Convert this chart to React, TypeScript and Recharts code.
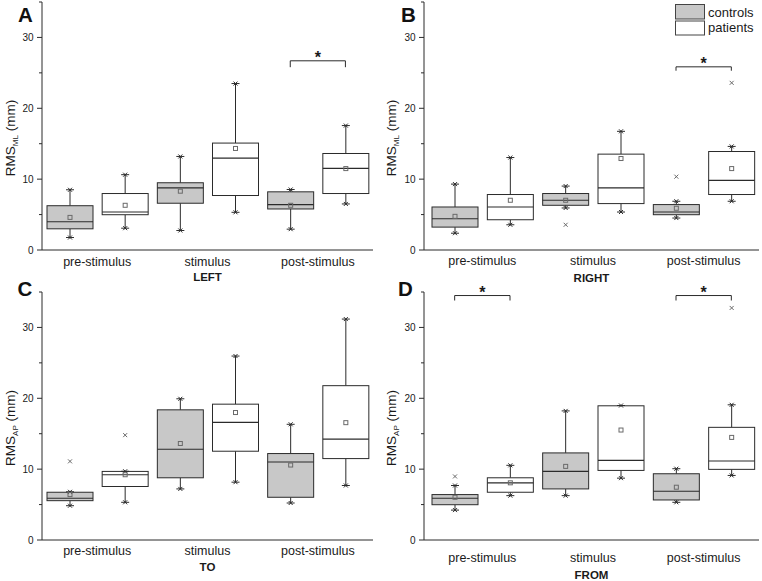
import React from 'react';
import { ComposedChart, Bar, XAxis, YAxis, ReferenceLine, ReferenceDot } from 'recharts';

const FONT = '"Liberation Sans", Arial, Helvetica, sans-serif';
const INK = '#2b2b2b';

// categories
const slots = ['pre-c', 'pre-p', 'stim-c', 'stim-p', 'post-c', 'post-p'];
const slotGroups = ['pre-stimulus', 'pre-stimulus', 'stimulus', 'stimulus', 'post-stimulus', 'post-stimulus'];
const slotCohort = ['controls', 'patients', 'controls', 'patients', 'controls', 'patients'];
const yTicks = [0, 5, 10, 15, 20, 25, 30, 35];

// Panel A - LEFT (RMS ML)
const leftMin = [1.76, 3.08, 2.75, 5.32, 2.94, 6.5];
const leftQ1 = [2.99, 4.98, 6.6, 7.69, 5.79, 7.97];
const leftMedian = [3.99, 5.36, 8.78, 12.96, 6.41, 11.53];
const leftQ3 = [6.25, 7.97, 9.49, 15.09, 8.21, 13.62];
const leftMax = [8.5, 10.63, 13.2, 23.49, 8.54, 17.56];
const leftMean = [4.6, 6.31, 8.3, 14.33, 6.31, 11.49];
const leftOutliers: number[][] = [[], [], [], [], [], []];

// Panel B - RIGHT (RMS ML)
const rightMin = [2.37, 3.56, 5.93, 5.36, 4.51, 6.88];
const rightQ1 = [3.23, 4.27, 6.31, 6.55, 4.98, 7.83];
const rightMedian = [4.41, 6.07, 7.02, 8.78, 5.36, 9.82];
const rightQ3 = [6.07, 7.83, 7.97, 13.53, 6.41, 13.9];
const rightMax = [9.3, 13.05, 9.02, 16.75, 6.88, 14.62];
const rightMean = [4.75, 7.02, 7.02, 12.91, 5.89, 11.49];
const rightOutliers: number[][] = [[], [], [3.56], [], [10.35], [23.59]];

// Panel C - TO (RMS AP)
const toMin = [4.84, 5.32, 7.21, 8.16, 5.22, 7.69];
const toQ1 = [5.55, 7.55, 8.78, 12.53, 6.03, 11.49];
const toMedian = [5.89, 9.21, 12.81, 16.61, 11.01, 14.24];
const toQ3 = [6.74, 9.68, 18.37, 19.17, 12.2, 21.78];
const toMax = [6.8, 9.7, 19.93, 25.96, 16.33, 31.18];
const toMean = [6.41, 9.21, 13.62, 17.99, 10.58, 16.56];
const toOutliers: number[][] = [[11.1], [14.8], [], [], [], []];

// Panel D - FROM (RMS AP)
const fromMin = [4.22, 6.26, 6.26, 8.73, 5.32, 9.11];
const fromQ1 = [4.98, 6.74, 7.21, 9.82, 5.65, 9.97];
const fromMedian = [5.89, 8.07, 9.68, 11.25, 6.88, 11.15];
const fromQ3 = [6.41, 8.78, 12.29, 18.94, 9.35, 15.9];
const fromMax = [7.69, 10.54, 18.22, 18.98, 10.06, 19.08];
const fromMean = [6.03, 8.07, 10.39, 15.52, 7.45, 14.48];
const fromOutliers: number[][] = [[8.97], [], [], [], [], [32.75]];

// significance brackets
type Sig = { from: string; to: string; group: string; y: number; drop: number };
const leftSig: Sig[] = [{ from: 'post-c', to: 'post-p', group: 'post-stimulus', y: 26.7, drop: 25.8 }];
const rightSig: Sig[] = [{ from: 'post-c', to: 'post-p', group: 'post-stimulus', y: 25.85, drop: 25.3 }];
const toSig: Sig[] = [];
const fromSig: Sig[] = [
  { from: 'pre-c', to: 'pre-p', group: 'pre-stimulus', y: 34.5, drop: 33.8 },
  { from: 'post-c', to: 'post-p', group: 'post-stimulus', y: 34.5, drop: 33.8 },
];

type PanelSpec = {
  left: number; top: number; marginTop: number; yAxisWidth: number; marginRight: number; padLeft: number;
  sub: string; title: string;
  mins: number[]; q1s: number[]; medians: number[]; q3s: number[]; maxs: number[]; means: number[]; outliers: number[][];
  sig: Sig[]; tickDy: number; titleDy: number;
};

const panels: PanelSpec[] = [
  { left: 0, top: 0, marginTop: 2, yAxisWidth: 42, marginRight: 8, padLeft: 0, sub: 'ML', title: 'LEFT',
    mins: leftMin, q1s: leftQ1, medians: leftMedian, q3s: leftQ3, maxs: leftMax, means: leftMean, outliers: leftOutliers,
    sig: leftSig, tickDy: 11, titleDy: 31.3 },
  { left: 381, top: 0, marginTop: 2, yAxisWidth: 43, marginRight: 3, padLeft: 3, sub: 'ML', title: 'RIGHT',
    mins: rightMin, q1s: rightQ1, medians: rightMedian, q3s: rightQ3, maxs: rightMax, means: rightMean, outliers: rightOutliers,
    sig: rightSig, tickDy: 9.5, titleDy: 32 },
  { left: 0, top: 277.5, marginTop: 14, yAxisWidth: 42, marginRight: 8, padLeft: 0, sub: 'AP', title: 'TO',
    mins: toMin, q1s: toQ1, medians: toMedian, q3s: toQ3, maxs: toMax, means: toMean, outliers: toOutliers,
    sig: toSig, tickDy: 10, titleDy: 31 },
  { left: 381, top: 277.5, marginTop: 14, yAxisWidth: 43, marginRight: 3, padLeft: 3, sub: 'AP', title: 'FROM',
    mins: fromMin, q1s: fromQ1, medians: fromMedian, q3s: fromQ3, maxs: fromMax, means: fromMean, outliers: fromOutliers,
    sig: fromSig, tickDy: 17, titleDy: 38.7 },
];

function buildRows(p: PanelSpec) {
  return slots.map((slot, i) => {
    const outs = p.outliers[i];
    const lo = Math.min(p.mins[i], ...outs);
    const hi = Math.max(p.maxs[i], ...outs);
    return {
      slot, group: slotGroups[i], cohort: slotCohort[i],
      wlo: p.mins[i], q1: p.q1s[i], med: p.medians[i], q3: p.q3s[i], whi: p.maxs[i],
      mean: p.means[i], outliers: outs, lo, hi, range: [lo, hi],
    };
  });
}

const Cross = ({ cx, cy, s, color }: { cx: number; cy: number; s: number; color: string }) => (
  <g stroke={color} strokeWidth={1}>
    <line x1={cx - s} y1={cy - s} x2={cx + s} y2={cy + s} />
    <line x1={cx - s} y1={cy + s} x2={cx + s} y2={cy - s} />
  </g>
);

function BoxShape(props: any) {
  const { x, y, width, height, payload } = props;
  if (!payload || !isFinite(x) || !isFinite(y) || !isFinite(height)) return null;
  const { lo, hi, q1, q3, med, wlo, whi, mean, outliers, cohort } = payload;
  const k = height / (hi - lo);
  const py = (v: number) => y + (hi - v) * k;
  const cx = x + width / 2;
  const fill = cohort === 'controls' ? '#c8c8c8' : '#ffffff';
  return (
    <g>
      <line x1={cx} x2={cx} y1={py(whi)} y2={py(q3)} stroke={INK} />
      <line x1={cx} x2={cx} y1={py(q1)} y2={py(wlo)} stroke={INK} />
      <rect x={x} y={py(q3)} width={width} height={py(q1) - py(q3)} fill={fill} stroke={INK} strokeWidth={1} />
      <line x1={x} x2={x + width} y1={py(med)} y2={py(med)} stroke={INK} strokeWidth={1.2} />
      {[whi, wlo].map((v, i) => (
        <g key={i}>
          <line x1={cx - 4} x2={cx + 4} y1={py(v)} y2={py(v)} stroke={INK} />
          <Cross cx={cx} cy={py(v)} s={2} color={INK} />
        </g>
      ))}
      <rect x={cx - 2} y={py(mean) - 2} width={4} height={4} fill="none" stroke="#6a6a6a" strokeWidth={1} />
      {outliers.map((v: number, i: number) => (
        <Cross key={'o' + i} cx={cx} cy={py(v)} s={2} color="#6a6a6a" />
      ))}
    </g>
  );
}

const YTick = (props: any) => {
  const { x, y, payload } = props;
  const v = payload.value;
  const major = v % 10 === 0;
  return (
    <g>
      <line x1={x} x2={x - (major ? 5 : 3)} y1={y} y2={y} stroke={INK} />
      {major && (
        <text x={x - 8.5} y={y} dy={3.5} textAnchor="end" fontSize={10} fill="#1a1a1a" fontFamily={FONT}>
          {v}
        </text>
      )}
    </g>
  );
};

const makeXTick = (dy: number) => (props: any) => (
  <text x={props.x} y={props.y + dy} textAnchor="middle" fontSize={12.5} fill="#1a1a1a" fontFamily={FONT}>
    {props.payload.value}
  </text>
);

const makeYLabel = (sub: string) => (props: any) => {
  const vb = props.viewBox || { x: 0, y: 0, width: 0, height: 0 };
  const tx = vb.x + 14.5;
  const ty = vb.y + vb.height / 2 + 12;
  return (
    <text transform={`rotate(-90 ${tx} ${ty})`} x={tx} y={ty} textAnchor="middle" fontSize={13.5} fill="#1a1a1a" fontFamily={FONT}>
      RMS<tspan fontSize={8} dy={3}>{sub}</tspan>
      <tspan fontSize={13.5} dy={-3}>{' (mm)'}</tspan>
    </text>
  );
};

const makeXTitle = (title: string, dy: number) => (props: any) => {
  const vb = props.viewBox || { x: 0, y: 0, width: 0, height: 0 };
  return (
    <text x={vb.x + vb.width / 2} y={vb.y - 5 + dy} textAnchor="middle" fontSize={11.5} fontWeight="bold" fill="#1a1a1a" fontFamily={FONT}>
      {title}
    </text>
  );
};

function Panel({ p }: { p: PanelSpec }) {
  const rows = buildRows(p);
  const h = 248 + p.marginTop + 42;
  return (
    <div style={{ position: 'absolute', left: p.left, top: p.top, width: 381, height: h }}>
      <ComposedChart width={381} height={h} data={rows} margin={{ top: p.marginTop, right: p.marginRight, left: 0, bottom: 0 }}>
        <XAxis
          dataKey="slot" type="category" height={5} tick={false} tickSize={4}
          axisLine={{ stroke: INK }} tickLine={{ stroke: INK }} interval={0}
          padding={{ left: p.padLeft, right: 0 }}
        />
        <XAxis
          xAxisId="grp" dataKey="group" type="category" allowDuplicatedCategory={false}
          height={37} axisLine={false} tickLine={false} tickSize={0} tickMargin={0} interval={0}
          padding={{ left: p.padLeft, right: 0 }}
          tick={makeXTick(p.tickDy)} label={makeXTitle(p.title, p.titleDy)}
        />
        <YAxis
          type="number" domain={[0, 35]} ticks={yTicks} interval={0} width={p.yAxisWidth}
          allowDataOverflow tickLine={false} tickSize={0} tickMargin={0}
          axisLine={{ stroke: INK }} tick={YTick} label={makeYLabel(p.sub)}
        />
        <Bar dataKey="range" barSize={46} shape={BoxShape} isAnimationActive={false} />
        {p.sig.map((s, i) => (
          <ReferenceLine key={'h' + i} segment={[{ x: s.from, y: s.y }, { x: s.to, y: s.y }]} stroke={INK} strokeWidth={1} />
        ))}
        {p.sig.map((s, i) => (
          <ReferenceLine key={'l' + i} segment={[{ x: s.from, y: s.y }, { x: s.from, y: s.drop }]} stroke={INK} strokeWidth={1} />
        ))}
        {p.sig.map((s, i) => (
          <ReferenceLine key={'r' + i} segment={[{ x: s.to, y: s.y }, { x: s.to, y: s.drop }]} stroke={INK} strokeWidth={1} />
        ))}
        {p.sig.map((s, i) => (
          <ReferenceDot
            key={'a' + i} xAxisId="grp" x={s.group} y={s.y} r={0}
            shape={(sp: any) => (
              <text x={sp.cx} y={sp.cy + 2.5} textAnchor="middle" fontSize={16} fontWeight="bold" fill="#1a1a1a" fontFamily={FONT}>
                *
              </text>
            )}
          />
        ))}
      </ComposedChart>
    </div>
  );
}

const letters = [
  { t: 'A', x: 18, y: 22 },
  { t: 'B', x: 401, y: 22 },
  { t: 'C', x: 17.5, y: 296 },
  { t: 'D', x: 398, y: 296 },
];

export default function App() {
  return (
    <div style={{ position: 'absolute', left: 0, top: 0, width: 762, height: 581, background: '#fff', overflow: 'hidden' }}>
      {panels.map((p, i) => (
        <Panel key={i} p={p} />
      ))}
      <svg width={762} height={581} style={{ position: 'absolute', left: 0, top: 0, pointerEvents: 'none' }}>
        {letters.map((l) => (
          <text key={l.t} x={l.x} y={l.y} fontSize={20.5} fontWeight="bold" fill="#111" fontFamily={FONT}>
            {l.t}
          </text>
        ))}
        <rect x={675.5} y={4.5} width={29} height={14.5} fill="#c8c8c8" stroke="#444" />
        <rect x={675.5} y={21} width={29} height={14} fill="#fff" stroke="#444" />
        <text x={708} y={16.5} fontSize={13} fill="#1a1a1a" fontFamily={FONT}>controls</text>
        <text x={708} y={31.5} fontSize={13} fill="#1a1a1a" fontFamily={FONT}>patients</text>
      </svg>
    </div>
  );
}
